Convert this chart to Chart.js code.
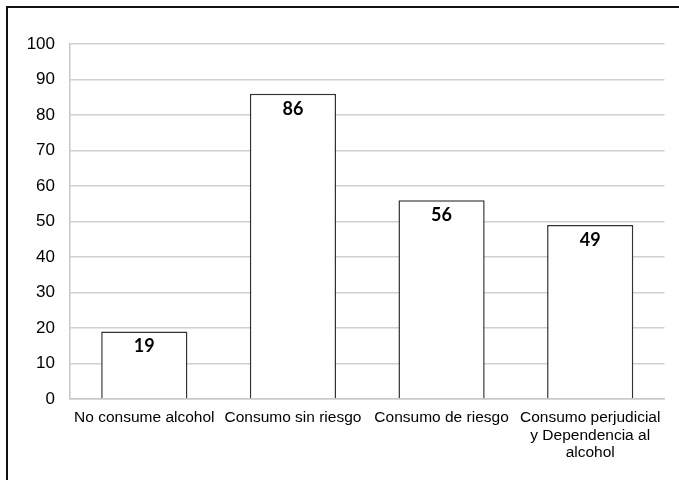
<!DOCTYPE html>
<html>
<head>
<meta charset="utf-8">
<script src="https://cdn.jsdelivr.net/npm/chart.js@4/dist/chart.umd.min.js"></script>
<style>
  html, body { margin: 0; padding: 0; background: #fff; }
  #wrap { position: relative; width: 679px; height: 480px; }
</style>
</head>
<body>
<div id="wrap"><canvas id="chart" width="679" height="480"></canvas></div>
<script>
// Categories (multi-line labels as arrays)
const categories = [
  'No consume alcohol',
  'Consumo sin riesgo',
  'Consumo de riesgo',
  ['Consumo perjudicial', 'y Dependencia al', 'alcohol']
];
// Values per category
const values = [19, 86, 56, 49];
// Y axis range
const yTicks = { min: 0, max: 100, step: 10 };

// Thin frame along the top and left edges of the figure
const framePlugin = {
  id: 'frame',
  beforeDraw(chart) {
    const ctx = chart.ctx;
    ctx.save();
    ctx.fillStyle = '#ffffff';
    ctx.fillRect(0, 0, chart.width, chart.height);
    ctx.strokeStyle = '#111111';
    ctx.lineWidth = 2;
    ctx.beginPath();
    ctx.moveTo(7, chart.height);
    ctx.lineTo(7, 7);
    ctx.lineTo(chart.width, 7);
    ctx.stroke();
    ctx.restore();
  }
};

// Value labels inside the top of each bar
const valueLabels = {
  id: 'valueLabels',
  afterDatasetsDraw(chart) {
    const ctx = chart.ctx;
    const meta = chart.getDatasetMeta(0);
    ctx.save();
    ctx.font = 'bold 18px Lato, "Open Sans", sans-serif';
    ctx.fillStyle = '#000';
    ctx.textAlign = 'center';
    ctx.textBaseline = 'middle';
    meta.data.forEach((bar, i) => {
      ctx.fillText(String(values[i]), bar.x, bar.y + 15);
    });
    ctx.restore();
  }
};

new Chart(document.getElementById('chart'), {
  type: 'bar',
  data: {
    labels: categories,
    datasets: [{
      data: values,
      backgroundColor: '#ffffff',
      borderColor: '#333333',
      borderWidth: 1.5,
      barPercentage: 0.58,
      categoryPercentage: 1
    }]
  },
  options: {
    responsive: false,
    animation: false,
    devicePixelRatio: 1,
    layout: { padding: { left: 0, top: 44, right: 14.5, bottom: 0 } },
    plugins: { legend: { display: false }, tooltip: { enabled: false } },
    scales: {
      x: {
        grid: { display: false, drawTicks: false },
        border: { display: true, color: '#c8c8c8', width: 1.5 },
        ticks: {
          color: '#000',
          font: { family: 'Arial, "Liberation Sans", sans-serif', size: 15.5, lineHeight: 1.13 },
          padding: 10,
          maxRotation: 0,
          autoSkip: false
        },
        afterFit(scale) { scale.height = 81; }
      },
      y: {
        min: yTicks.min,
        max: yTicks.max,
        grid: { color: '#d0d0d0', lineWidth: 1.5, drawTicks: false },
        border: { display: true, color: '#c8c8c8', width: 1.5 },
        ticks: {
          stepSize: yTicks.step,
          color: '#000',
          font: { family: 'Arial, "Liberation Sans", sans-serif', size: 17 },
          padding: 15
        },
        afterFit(scale) { scale.width = 70; }
      }
    }
  },
  plugins: [framePlugin, valueLabels]
});
</script>
</body>
</html>
